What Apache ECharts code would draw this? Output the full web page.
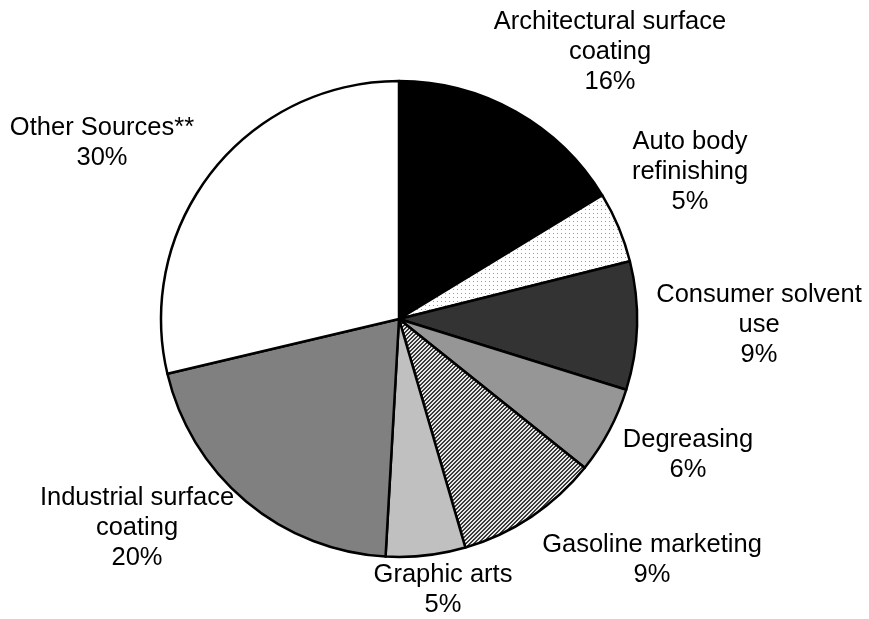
<!DOCTYPE html>
<html>
<head>
<meta charset="utf-8">
<script src="https://cdn.jsdelivr.net/npm/echarts@6/dist/echarts.min.js"></script>
<style>
  html, body { margin: 0; padding: 0; background: #fff; }
  #chart { width: 869px; height: 619px; }
</style>
</head>
<body>
<div id="chart"></div>
<script>
const categories = [
  'Architectural surface\ncoating',
  'Auto body\nrefinishing',
  'Consumer solvent\nuse',
  'Degreasing',
  'Gasoline marketing',
  'Graphic arts',
  'Industrial surface\ncoating',
  'Other Sources**'
];
// slice sizes as drawn in the picture
const sliceValues = [16.3, 4.8, 8.7, 5.95, 9.75, 5.4, 20.4, 28.7];
// percentages as printed on the labels
const pctLabels = ['16%', '5%', '9%', '6%', '9%', '5%', '20%', '30%'];

// label block centres (x, y), kept apart from the data
const labelPos = [
  [610, 52], [690, 172], [759, 325], [688, 455],
  [652, 560], [443, 590], [137, 528], [102, 143]
];

function makePattern(size, draw) {
  const c = document.createElement('canvas');
  c.width = size; c.height = size;
  const ctx = c.getContext('2d');
  draw(ctx);
  return { image: c, repeat: 'repeat' };
}

// sparse grey dots on white
const dots = makePattern(4, ctx => {
  ctx.fillStyle = '#fff';
  ctx.fillRect(0, 0, 4, 4);
  ctx.fillStyle = '#9a9a9a';
  ctx.fillRect(1, 1, 1, 1);
});

// fine diagonal hatch
const hatch = makePattern(4, ctx => {
  ctx.fillStyle = '#e8e8e8';
  ctx.fillRect(0, 0, 4, 4);
  ctx.fillStyle = '#3a3a3a';
  for (let i = 0; i < 4; i++) {
    ctx.fillRect(i, (4 - i) % 4, 1, 1);
    ctx.fillRect(i, (5 - i) % 4, 1, 1);
  }
});

const fills = ['#000000', dots, '#333333', '#969696', hatch, '#c0c0c0', '#808080', '#ffffff'];

const chart = echarts.init(document.getElementById('chart'));
chart.setOption({
  animation: false,
  backgroundColor: '#fff',
  series: [{
    type: 'pie',
    center: [399, 319],
    radius: 238,
    startAngle: 90,
    clockwise: true,
    data: categories.map((name, i) => ({
      name,
      value: sliceValues[i],
      itemStyle: { color: fills[i] }
    })),
    itemStyle: { borderColor: '#000', borderWidth: 2.5 },
    emphasis: { disabled: true },
    labelLine: { show: false },
    label: {
      show: true,
      position: 'outside',
      overflow: 'none',
      formatter: p => p.name + '\n' + pctLabels[p.dataIndex],
      fontFamily: 'Liberation Sans, Arial, sans-serif',
      fontSize: 25.5,
      lineHeight: 30,
      color: '#000',
      align: 'center'
    },
    labelLayout: p => ({
      x: labelPos[p.dataIndex][0],
      y: labelPos[p.dataIndex][1],
      align: 'center',
      verticalAlign: 'middle'
    })
  }]
});
</script>
</body>
</html>
